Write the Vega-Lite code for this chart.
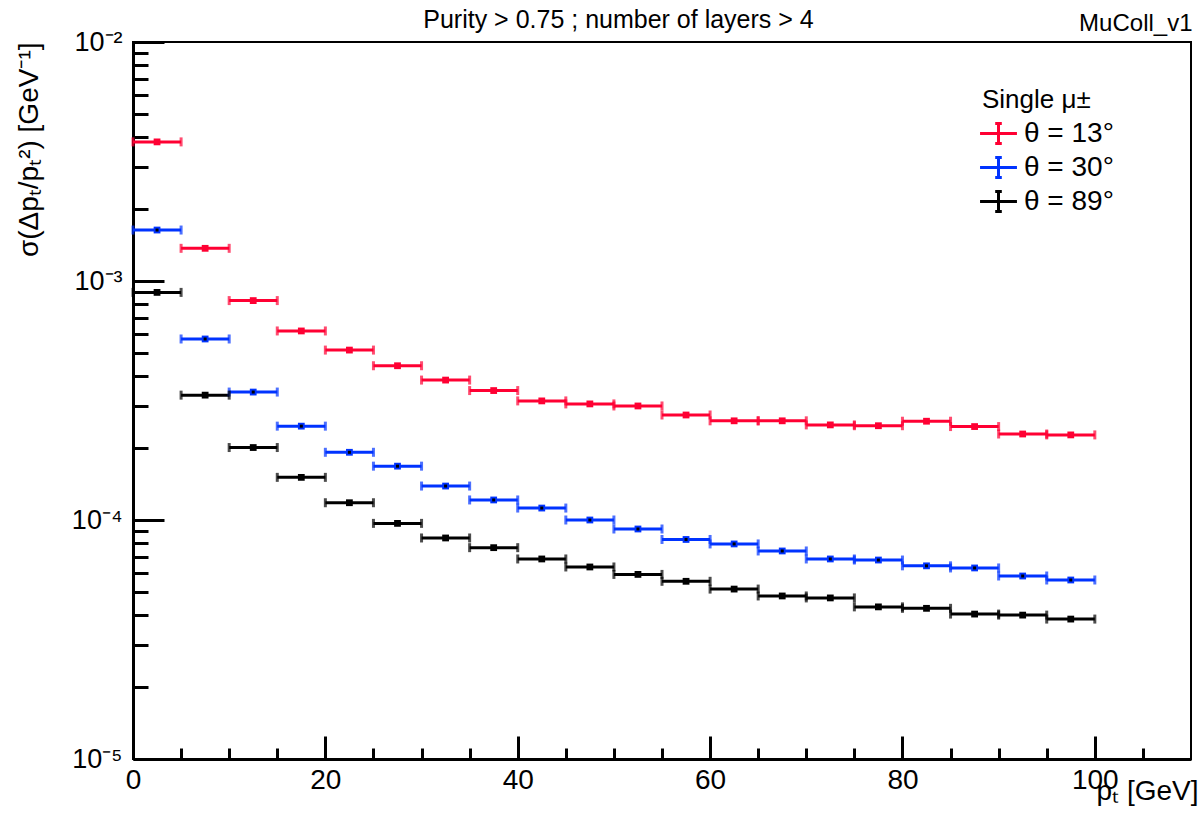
{
  "$schema": "https://vega.github.io/schema/vega-lite/v6.json",
  "autosize": {"type": "none"},
  "padding": {"left": 133, "top": 42, "right": 12, "bottom": 72},
  "width": 1058,
  "height": 717,
  "background": "white",
  "config": {
    "view": {"stroke": "black", "strokeWidth": 2},
    "axis": {"grid": false, "domainColor": "black", "tickColor": "black", "labelColor": "black", "titleColor": "black", "labelFont": "Liberation Sans", "titleFont": "Liberation Sans", "titleFontWeight": "normal", "labelFontSize": 28, "titleFontSize": 28, "domainWidth": 3, "tickWidth": 3},
    "legend": {"labelFont": "Liberation Sans", "titleFont": "Liberation Sans"}
  },
  "data": {"values": [
    {"s":"θ = 13°","lo":0,"hi":5,"c":2.5,"v":3.82e-3},
    {"s":"θ = 13°","lo":5,"hi":10,"c":7.5,"v":1.37e-3},
    {"s":"θ = 13°","lo":10,"hi":15,"c":12.5,"v":8.28e-4},
    {"s":"θ = 13°","lo":15,"hi":20,"c":17.5,"v":6.18e-4},
    {"s":"θ = 13°","lo":20,"hi":25,"c":22.5,"v":5.14e-4},
    {"s":"θ = 13°","lo":25,"hi":30,"c":27.5,"v":4.42e-4},
    {"s":"θ = 13°","lo":30,"hi":35,"c":32.5,"v":3.85e-4},
    {"s":"θ = 13°","lo":35,"hi":40,"c":37.5,"v":3.48e-4},
    {"s":"θ = 13°","lo":40,"hi":45,"c":42.5,"v":3.15e-4},
    {"s":"θ = 13°","lo":45,"hi":50,"c":47.5,"v":3.06e-4},
    {"s":"θ = 13°","lo":50,"hi":55,"c":52.5,"v":3.00e-4},
    {"s":"θ = 13°","lo":55,"hi":60,"c":57.5,"v":2.75e-4},
    {"s":"θ = 13°","lo":60,"hi":65,"c":62.5,"v":2.60e-4},
    {"s":"θ = 13°","lo":65,"hi":70,"c":67.5,"v":2.60e-4},
    {"s":"θ = 13°","lo":70,"hi":75,"c":72.5,"v":2.50e-4},
    {"s":"θ = 13°","lo":75,"hi":80,"c":77.5,"v":2.48e-4},
    {"s":"θ = 13°","lo":80,"hi":85,"c":82.5,"v":2.59e-4},
    {"s":"θ = 13°","lo":85,"hi":90,"c":87.5,"v":2.46e-4},
    {"s":"θ = 13°","lo":90,"hi":95,"c":92.5,"v":2.29e-4},
    {"s":"θ = 13°","lo":95,"hi":100,"c":97.5,"v":2.27e-4},
    {"s":"θ = 30°","lo":0,"hi":5,"c":2.5,"v":1.634e-3},
    {"s":"θ = 30°","lo":5,"hi":10,"c":7.5,"v":5.72e-4},
    {"s":"θ = 30°","lo":10,"hi":15,"c":12.5,"v":3.43e-4},
    {"s":"θ = 30°","lo":15,"hi":20,"c":17.5,"v":2.47e-4},
    {"s":"θ = 30°","lo":20,"hi":25,"c":22.5,"v":1.92e-4},
    {"s":"θ = 30°","lo":25,"hi":30,"c":27.5,"v":1.68e-4},
    {"s":"θ = 30°","lo":30,"hi":35,"c":32.5,"v":1.387e-4},
    {"s":"θ = 30°","lo":35,"hi":40,"c":37.5,"v":1.213e-4},
    {"s":"θ = 30°","lo":40,"hi":45,"c":42.5,"v":1.122e-4},
    {"s":"θ = 30°","lo":45,"hi":50,"c":47.5,"v":1.0e-4},
    {"s":"θ = 30°","lo":50,"hi":55,"c":52.5,"v":9.17e-5},
    {"s":"θ = 30°","lo":55,"hi":60,"c":57.5,"v":8.29e-5},
    {"s":"θ = 30°","lo":60,"hi":65,"c":62.5,"v":7.94e-5},
    {"s":"θ = 30°","lo":65,"hi":70,"c":67.5,"v":7.42e-5},
    {"s":"θ = 30°","lo":70,"hi":75,"c":72.5,"v":6.87e-5},
    {"s":"θ = 30°","lo":75,"hi":80,"c":77.5,"v":6.80e-5},
    {"s":"θ = 30°","lo":80,"hi":85,"c":82.5,"v":6.43e-5},
    {"s":"θ = 30°","lo":85,"hi":90,"c":87.5,"v":6.30e-5},
    {"s":"θ = 30°","lo":90,"hi":95,"c":92.5,"v":5.83e-5},
    {"s":"θ = 30°","lo":95,"hi":100,"c":97.5,"v":5.61e-5},
    {"s":"θ = 89°","lo":0,"hi":5,"c":2.5,"v":8.96e-4},
    {"s":"θ = 89°","lo":5,"hi":10,"c":7.5,"v":3.33e-4},
    {"s":"θ = 89°","lo":10,"hi":15,"c":12.5,"v":2.01e-4},
    {"s":"θ = 89°","lo":15,"hi":20,"c":17.5,"v":1.508e-4},
    {"s":"θ = 89°","lo":20,"hi":25,"c":22.5,"v":1.181e-4},
    {"s":"θ = 89°","lo":25,"hi":30,"c":27.5,"v":9.68e-5},
    {"s":"θ = 89°","lo":30,"hi":35,"c":32.5,"v":8.41e-5},
    {"s":"θ = 89°","lo":35,"hi":40,"c":37.5,"v":7.66e-5},
    {"s":"θ = 89°","lo":40,"hi":45,"c":42.5,"v":6.87e-5},
    {"s":"θ = 89°","lo":45,"hi":50,"c":47.5,"v":6.36e-5},
    {"s":"θ = 89°","lo":50,"hi":55,"c":52.5,"v":5.92e-5},
    {"s":"θ = 89°","lo":55,"hi":60,"c":57.5,"v":5.54e-5},
    {"s":"θ = 89°","lo":60,"hi":65,"c":62.5,"v":5.14e-5},
    {"s":"θ = 89°","lo":65,"hi":70,"c":67.5,"v":4.81e-5},
    {"s":"θ = 89°","lo":70,"hi":75,"c":72.5,"v":4.72e-5},
    {"s":"θ = 89°","lo":75,"hi":80,"c":77.5,"v":4.33e-5},
    {"s":"θ = 89°","lo":80,"hi":85,"c":82.5,"v":4.27e-5},
    {"s":"θ = 89°","lo":85,"hi":90,"c":87.5,"v":4.04e-5},
    {"s":"θ = 89°","lo":90,"hi":95,"c":92.5,"v":4.00e-5},
    {"s":"θ = 89°","lo":95,"hi":100,"c":97.5,"v":3.85e-5}
  ]},
  "resolve": {"axis": {"x": "independent", "y": "independent"}},
  "layer": [
    {
      "mark": {"type": "rule", "strokeWidth": 3},
      "encoding": {
        "x": {"field": "lo", "type": "quantitative", "scale": {"domain": [0, 110], "nice": false, "zero": false},
              "axis": {"orient": "bottom", "values": [0, 20, 40, 60, 80, 100], "tickSize": -23, "labelPadding": 30, "labelFlush": false, "title": "pₜ [GeV]", "titleAnchor": "end", "titleAlign": "right", "titleBaseline": "alphabetic", "titleY": 40, "titleX": 1065}},
        "x2": {"field": "hi"},
        "y": {"field": "v", "type": "quantitative", "scale": {"type": "log", "domain": [1e-5, 1e-2], "nice": false},
              "axis": {"orient": "left", "values": [1e-5, 1e-4, 1e-3, 1e-2], "tickSize": -31, "labelPadding": 42, "labelFlush": false, "labelFontSize": 27,
                       "labelExpr": "datum.value > 0.005 ? '10⁻²' : datum.value > 0.0005 ? '10⁻³' : datum.value > 0.00005 ? '10⁻⁴' : '10⁻⁵'",
                       "title": "σ(Δpₜ/pₜ²) [GeV⁻¹]", "titleFontSize": 28, "titleAnchor": "end", "titlePadding": 28}},
        "color": {"field": "s", "type": "nominal",
                  "scale": {"domain": ["θ = 13°", "θ = 30°", "θ = 89°"], "range": ["#ff0033", "#0033ff", "#000000"]},
                  "legend": {"orient": "none", "legendX": 849, "legendY": 45, "title": "Single μ±", "titleFontSize": 26, "titleFontWeight": "normal", "titleColor": "black", "titlePadding": 4, "labelFontSize": 28, "labelColor": "black", "labelOffset": 9,
                             "symbolType": "M-1.23,0H1.23M0,-0.67V0.67M-0.22,-0.67H0.22M-0.22,0.67H0.22", "symbolSize": 900, "symbolStrokeWidth": 3, "rowPadding": 1}}
      }
    },
    {
      "mark": {"type": "tick", "orient": "vertical", "size": 9, "thickness": 3},
      "encoding": {
        "x": {"field": "lo", "type": "quantitative",
              "axis": {"orient": "bottom", "values": [5, 10, 15, 25, 30, 35, 45, 50, 55, 65, 70, 75, 85, 90, 95, 105], "tickSize": -11, "labels": false, "domain": false, "title": null}},
        "y": {"field": "v", "type": "quantitative",
              "axis": {"orient": "left", "values": [2e-5, 3e-5, 4e-5, 5e-5, 6e-5, 7e-5, 8e-5, 9e-5, 2e-4, 3e-4, 4e-4, 5e-4, 6e-4, 7e-4, 8e-4, 9e-4, 2e-3, 3e-3, 4e-3, 5e-3, 6e-3, 7e-3, 8e-3, 9e-3], "tickSize": -15, "labels": false, "domain": false, "title": null}},
        "color": {"field": "s", "type": "nominal", "legend": null}
      }
    },
    {
      "mark": {"type": "tick", "orient": "vertical", "size": 9, "thickness": 3},
      "encoding": {
        "x": {"field": "hi", "type": "quantitative",
              "axis": {"orient": "top", "labels": false, "ticks": false, "domain": false, "title": "MuColl_v1", "titleFontSize": 24, "titleAnchor": "end", "titleAlign": "right", "titleBaseline": "alphabetic", "titleY": -12, "titleX": 1059}},
        "y": {"field": "v", "type": "quantitative", "axis": null},
        "color": {"field": "s", "type": "nominal", "legend": null}
      }
    },
    {
      "mark": {"type": "point", "shape": "square", "filled": true, "opacity": 1, "size": 46},
      "encoding": {
        "x": {"field": "c", "type": "quantitative",
              "axis": {"orient": "top", "labels": false, "ticks": false, "domain": false, "title": "Purity > 0.75 ; number of layers > 4", "titleFontSize": 25, "titleAlign": "center", "titleBaseline": "alphabetic", "titleY": -15, "titleX": 485}},
        "y": {"field": "v", "type": "quantitative", "axis": null},
        "color": {"field": "s", "type": "nominal", "legend": null}
      }
    },
    {
      "transform": [{"filter": "datum.s == 'θ = 30°'"}],
      "mark": {"type": "point", "shape": "square", "filled": true, "opacity": 1, "size": 9, "color": "black"},
      "encoding": {
        "x": {"field": "c", "type": "quantitative", "axis": null},
        "y": {"field": "v", "type": "quantitative", "axis": null}
      }
    }
  ]
}
